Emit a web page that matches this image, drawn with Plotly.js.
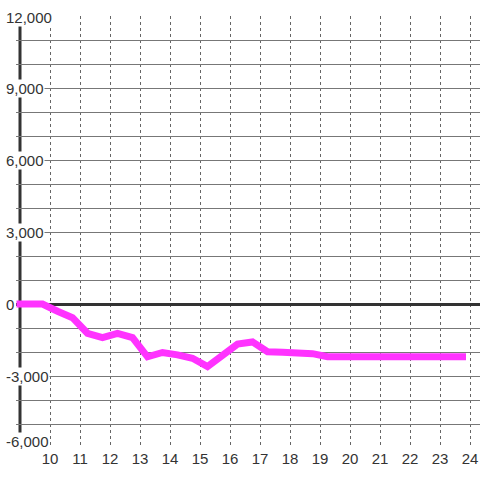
<!DOCTYPE html>
<html><head><meta charset="utf-8">
<script src="https://cdn.plot.ly/plotly-3.0.1.min.js"></script>
<style>
html,body{margin:0;padding:0;background:#fff;}
#chart{width:480px;height:480px;}
#chart .js-line{stroke-linecap:square;}
</style>
</head><body><div id="chart"></div>
<script>
const hours = [9, 9.75, 10.25, 10.75, 11.25, 11.75, 12.25, 12.75, 13.25, 13.75, 14.25, 14.75, 15.25, 15.75, 16.25, 16.75, 17.25, 17.75, 18.25, 18.75, 19.25, 19.75, 20.25, 20.75, 21.25, 21.75, 22.25, 22.75, 23.25, 23.75];
const values = [0, 0, -300, -570, -1220, -1400, -1220, -1400, -2200, -2020, -2120, -2260, -2610, -2130, -1670, -1580, -1990, -2010, -2040, -2070, -2200, -2200, -2200, -2200, -2200, -2200, -2200, -2200, -2200, -2200];
const xTickVals = [10, 11, 12, 13, 14, 15, 16, 17, 18, 19, 20, 21, 22, 23, 24];
const xTickText = ['10', '11', '12', '13', '14', '15', '16', '17', '18', '19', '20', '21', '22', '23', '24'];
const yTickVals = [-6000, -3000, 0, 3000, 6000, 9000, 12000];
const yTickText = ['-6,000', '-3,000', '0', '3,000', '6,000', '9,000', '12,000'];
const xRange = [8.8667, 24.3333];
const yRange = [-6000, 12000];
const axisX = 9;

const trace = {
  x: hours, y: values, type: 'scatter', mode: 'lines',
  line: {color: '#ff33ff', width: 7, shape: 'linear'},
  hoverinfo: 'skip'
};

const fontFam = '"Liberation Sans", Arial, sans-serif';

const layout = {
  width: 480, height: 480,
  margin: {l: 16, r: 0, t: 16, b: 32},
  paper_bgcolor: '#ffffff', plot_bgcolor: '#ffffff',
  showlegend: false,
  font: {family: fontFam, size: 15, color: '#333'},
  xaxis: {
    range: xRange, tickmode: 'array', tickvals: xTickVals, ticktext: xTickText,
    showgrid: true, gridcolor: '#666', gridwidth: 1, griddash: '3px,3px',
    zeroline: false, showline: false, ticks: '',
    tickfont: {family: fontFam, size: 15, color: '#333'}, fixedrange: true
  },
  yaxis: {
    range: yRange, tickmode: 'linear', tick0: 0, dtick: 1000,
    showticklabels: false, showgrid: true, gridcolor: '#777', gridwidth: 1,
    zeroline: true, zerolinecolor: '#333', zerolinewidth: 3,
    showline: false, ticks: '', fixedrange: true
  },
  shapes: [
    {type: 'rect', layer: 'between', xref: 'x', xsizemode: 'pixel', xanchor: axisX, x0: -6, x1: 0,
     yref: 'paper', y0: -0.01, y1: 1.01, fillcolor: '#fff', line: {width: 0}},
    {type: 'line', layer: 'between', xref: 'x', x0: axisX, x1: axisX, yref: 'paper', y0: 0, y1: 1,
     line: {color: '#333', width: 3}}
  ],
  annotations: yTickVals.map((v, i) => ({
    xref: 'x', x: axisX, yref: 'y', y: v, text: yTickText[i], showarrow: false,
    xanchor: 'left', yanchor: 'middle', xshift: -15,
    yshift: v === yRange[0] ? 7 : (v === yRange[1] ? -1 : 0),
    bgcolor: '#fff', borderpad: 0,
    font: {family: fontFam, size: 15, color: '#333'}
  }))
};

Plotly.newPlot('chart', [trace], layout, {staticPlot: true, displayModeBar: false});
</script>
</body></html>
